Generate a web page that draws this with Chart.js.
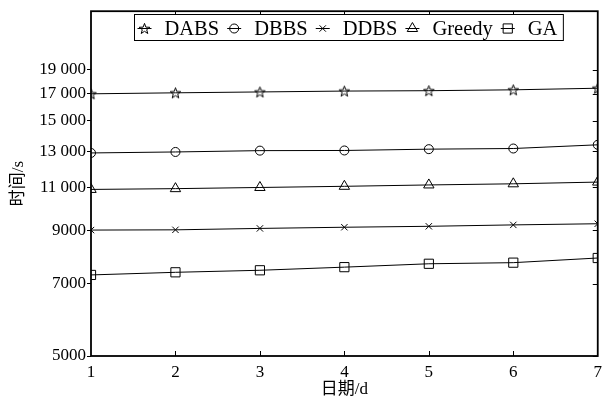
<!DOCTYPE html>
<html>
<head>
<meta charset="utf-8">
<script src="https://cdn.jsdelivr.net/npm/chart.js@4"></script>
<style>
html,body{margin:0;padding:0;background:#fff;}
#wrap{width:608px;height:403px;}
</style>
</head>
<body>
<div id="wrap"><canvas id="c" width="608" height="403"></canvas></div>
<script>
const days = [1, 2, 3, 4, 5, 6, 7];
const seriesNames = ['DABS', 'DBBS', 'DDBS', 'Greedy', 'GA'];
const dabs   = [17000, 17080, 17150, 17220, 17250, 17320, 17450];
const dbbs   = [12900, 12960, 13040, 13050, 13130, 13170, 13400];
const ddbs   = [9000, 9010, 9070, 9120, 9160, 9220, 9270];
const greedy = [10880, 10920, 10980, 11040, 11110, 11170, 11260];
const ga     = [7300, 7390, 7460, 7570, 7690, 7730, 7900];
const yTicks = [5000, 7000, 9000, 11000, 13000, 15000, 17000, 19000];
const xTicks = [1, 2, 3, 4, 5, 6, 7];

const SERIF = "'Liberation Serif', 'Times New Roman', 'Noto Sans CJK SC', serif";

function starCanvas() {
  const c = document.createElement('canvas');
  c.width = 13; c.height = 13;
  const g = c.getContext('2d');
  g.strokeStyle = '#000'; g.lineWidth = 1;
  g.beginPath();
  const cx = 6.5, cy = 7, R = 5.6, r = 2.3;
  for (let i = 0; i < 10; i++) {
    const rad = (i % 2 === 0) ? R : r;
    const a = -Math.PI / 2 + i * Math.PI / 5;
    const px = cx + rad * Math.cos(a), py = cy + rad * Math.sin(a);
    if (i === 0) g.moveTo(px, py); else g.lineTo(px, py);
  }
  g.closePath(); g.stroke();
  return c;
}
const starImg = starCanvas();

const styles = [starImg, 'circle', 'crossRot', 'triangle', 'rect'];
const radii = [5, 4.5, 4.5, 6, 6.5];
const values = [dabs, dbbs, ddbs, greedy, ga];

const datasets = seriesNames.map((name, i) => ({
  label: name,
  data: days.map((d, j) => ({x: d, y: values[i][j]})),
  borderColor: '#000',
  borderWidth: 1,
  pointStyle: styles[i],
  pointRadius: radii[i],
  pointBorderColor: '#000',
  pointBackgroundColor: 'rgba(0,0,0,0)',
  pointBorderWidth: 1,
  tension: 0
}));

function fmt(v) {
  if (v >= 10000) {
    const s = String(v);
    return s.slice(0, s.length - 3) + ' ' + s.slice(-3);
  }
  return String(v);
}

const framePlugin = {
  id: 'frame',
  afterDatasetsDraw(chart) {
    const {ctx, chartArea: a, scales} = chart;
    ctx.save();
    ctx.strokeStyle = '#000';
    ctx.lineWidth = 1;
    xTicks.forEach(t => {
      const px = Math.round(scales.x.getPixelForValue(t)) + 0.5;
      if (t === xTicks[0] || t === xTicks[xTicks.length - 1]) return;
      ctx.beginPath(); ctx.moveTo(px, a.bottom); ctx.lineTo(px, a.bottom - 5); ctx.stroke();
      ctx.beginPath(); ctx.moveTo(px, a.top); ctx.lineTo(px, a.top + 5); ctx.stroke();
    });
    yTicks.forEach(t => {
      const py = Math.round(scales.y.getPixelForValue(t)) + 0.5;
      ctx.beginPath(); ctx.moveTo(a.right, py); ctx.lineTo(a.right - 5, py); ctx.stroke();
    });
    ctx.lineWidth = 1.8;
    ctx.strokeRect(a.left, a.top, a.right - a.left, a.bottom - a.top);

    // legend box inside plot
    ctx.font = "20.5px " + SERIF;
    ctx.textBaseline = 'middle';
    const seg = 14, gap1 = 13, gap2 = 8, padL = 3, padR = 6;
    let total = padL + padR;
    chart.data.datasets.forEach((ds, i) => {
      total += seg + gap1 + ctx.measureText(ds.label).width + (i < chart.data.datasets.length - 1 ? gap2 : 0);
    });
    const cx = 348;
    const bx = Math.round(cx - total / 2) + 0.5;
    const by = 14.5, bh = 26;
    ctx.fillStyle = '#fff';
    ctx.fillRect(bx, by, total, bh);
    ctx.lineWidth = 1;
    ctx.strokeRect(bx, by, total, bh);
    let x = bx + padL;
    const my = Math.round(by + bh / 2) + 0.5;
    chart.data.datasets.forEach((ds, i) => {
      ctx.strokeStyle = '#000';
      ctx.lineWidth = 1;
      ctx.beginPath(); ctx.moveTo(x, my); ctx.lineTo(x + seg, my); ctx.stroke();
      ctx.fillStyle = 'rgba(0,0,0,0)';
      Chart.helpers.drawPoint(ctx, {pointStyle: ds.pointStyle, radius: ds.pointRadius, borderWidth: 1, rotation: 0}, x + seg / 2, my);
      x += seg + gap1;
      ctx.fillStyle = '#000';
      ctx.fillText(ds.label, x, my + 1);
      x += ctx.measureText(ds.label).width + gap2;
    });
    ctx.restore();
  }
};

new Chart(document.getElementById('c'), {
  type: 'line',
  data: {datasets},
  options: {
    responsive: false,
    animation: false,
    devicePixelRatio: 1,
    layout: {padding: {top: 10, right: 6, left: 0, bottom: 0}},
    plugins: {legend: {display: false}, tooltip: {enabled: false}},
    scales: {
      x: {
        type: 'linear',
        min: 1, max: 7,
        afterBuildTicks: s => { s.ticks = xTicks.map(v => ({value: v})); },
        afterFit: s => { s.height = 47; },
        grid: {display: false, drawTicks: false},
        border: {display: false},
        ticks: {color: '#000', font: {family: SERIF, size: 17}, padding: 6, maxRotation: 0, autoSkip: false},
        title: {display: true, text: '日期/d', color: '#000', font: {family: SERIF, size: 17}, padding: {top: 0, bottom: 3}}
      },
      y: {
        type: 'logarithmic',
        min: 5000, max: 25000,
        afterBuildTicks: s => { s.ticks = yTicks.map(v => ({value: v})); },
        afterFit: s => { s.width = 91; },
        grid: {display: true, drawOnChartArea: false, drawTicks: true, tickLength: 4, color: '#000'},
        border: {display: false},
        ticks: {color: '#000', font: {family: SERIF, size: 17}, padding: 1, autoSkip: false, callback: v => fmt(v)},
        title: {display: true, text: '时间/s', color: '#000', font: {family: SERIF, size: 17}, padding: {top: 8, bottom: 0}}
      }
    }
  },
  plugins: [framePlugin]
});
</script>
</body>
</html>
